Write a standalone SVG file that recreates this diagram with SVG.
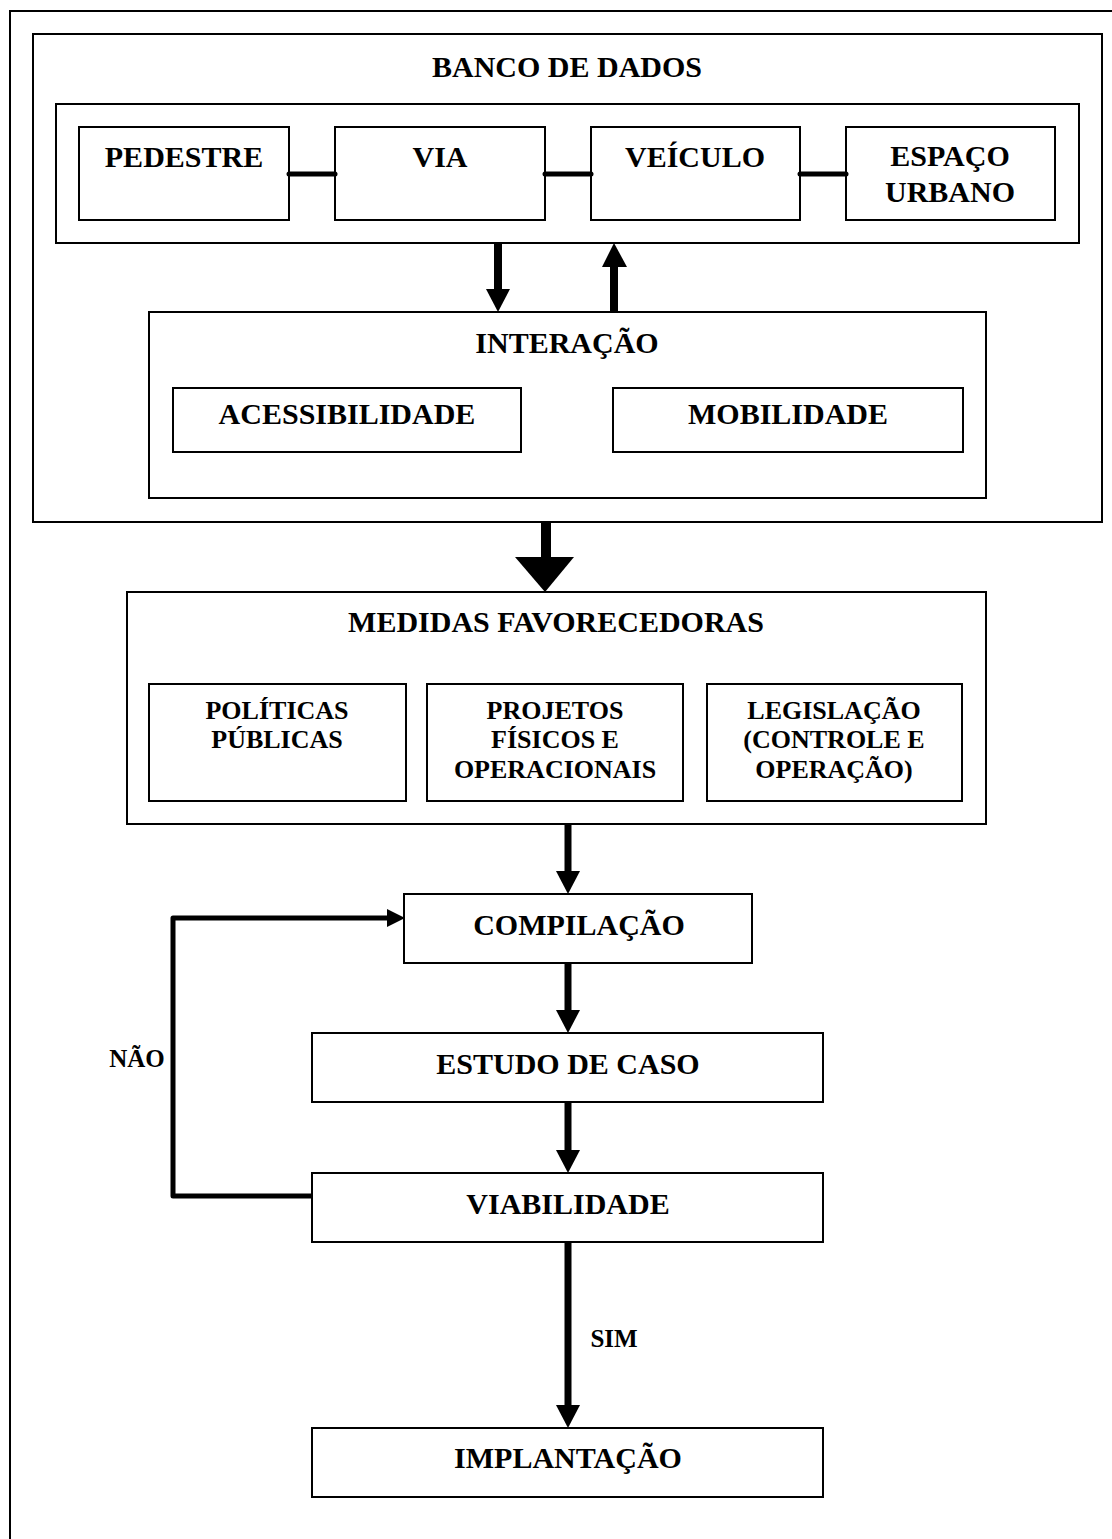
<svg xmlns="http://www.w3.org/2000/svg" width="1112" height="1539" viewBox="0 0 1112 1539">
<style>
.box{fill:#fff;stroke:#000;stroke-width:2}
.frame{fill:none;stroke:#000;stroke-width:2}
text{font-family:"Liberation Serif","Times New Roman",serif;font-weight:bold;fill:#000;text-anchor:middle}
.t30{font-size:30px}
.t26{font-size:26px}
.t25{font-size:25px}
.line{stroke:#000;fill:none}
.head{fill:#000;stroke:none}
</style>
<rect width="1112" height="1539" fill="#fff"/>
<rect class="frame" x="10" y="11" width="1110" height="1540"/>
<g id="banco">
<rect class="box" x="33" y="34" width="1069" height="488"/>
<text class="t30" x="567" y="77">BANCO DE DADOS</text>
<rect class="box" x="56" y="104" width="1023" height="139"/>
</g>
<g id="pedestre"><rect class="box" x="79" y="127" width="210" height="93"/><text class="t30" x="184" y="167">PEDESTRE</text></g>
<g id="via"><rect class="box" x="335" y="127" width="210" height="93"/><text class="t30" x="440" y="167">VIA</text></g>
<g id="veiculo"><rect class="box" x="591" y="127" width="209" height="93"/><text class="t30" x="695" y="167">VEÍCULO</text></g>
<g id="espaco"><rect class="box" x="846" y="127" width="209" height="93"/><text class="t30" x="950" y="166">ESPAÇO</text><text class="t30" x="950" y="202">URBANO</text></g>
<g id="interacao">
<rect class="box" x="149" y="312" width="837" height="186"/>
<text class="t30" x="567" y="353">INTERAÇÃO</text>
</g>
<g id="acessibilidade"><rect class="box" x="173" y="388" width="348" height="64"/><text class="t30" x="347" y="424">ACESSIBILIDADE</text></g>
<g id="mobilidade"><rect class="box" x="613" y="388" width="350" height="64"/><text class="t30" x="788" y="424">MOBILIDADE</text></g>
<g id="medidas">
<rect class="box" x="127" y="592" width="859" height="232"/>
<text class="t30" x="556" y="632">MEDIDAS FAVORECEDORAS</text>
</g>
<g id="politicas"><rect class="box" x="149" y="684" width="257" height="117"/><text class="t26" x="277" y="719">POLÍTICAS</text><text class="t26" x="277" y="748">PÚBLICAS</text></g>
<g id="projetos"><rect class="box" x="427" y="684" width="256" height="117"/><text class="t26" x="555" y="719">PROJETOS</text><text class="t26" x="555" y="748">FÍSICOS E</text><text class="t26" x="555" y="778">OPERACIONAIS</text></g>
<g id="legislacao"><rect class="box" x="707" y="684" width="255" height="117"/><text class="t26" x="834" y="719">LEGISLAÇÃO</text><text class="t26" x="834" y="748">(CONTROLE E</text><text class="t26" x="834" y="778">OPERAÇÃO)</text></g>
<g id="compilacao"><rect class="box" x="404" y="894" width="348" height="69"/><text class="t30" x="579" y="935">COMPILAÇÃO</text></g>
<g id="estudo"><rect class="box" x="312" y="1033" width="511" height="69"/><text class="t30" x="568" y="1074">ESTUDO DE CASO</text></g>
<g id="viabilidade"><rect class="box" x="312" y="1173" width="511" height="69"/><text class="t30" x="568" y="1214">VIABILIDADE</text></g>
<g id="implantacao"><rect class="box" x="312" y="1428" width="511" height="69"/><text class="t30" x="568" y="1468">IMPLANTAÇÃO</text></g>
<g id="connectors">
<line class="line" x1="289" y1="174" x2="335" y2="174" stroke-width="5" stroke-linecap="round"/>
<line class="line" x1="545" y1="174" x2="591" y2="174" stroke-width="5" stroke-linecap="round"/>
<line class="line" x1="800" y1="174" x2="846" y2="174" stroke-width="5" stroke-linecap="round"/>
<line class="line" x1="498" y1="243" x2="498" y2="290" stroke-width="8"/>
<polygon class="head" points="486,289 510,289 498,312"/>
<line class="line" x1="614" y1="266" x2="614" y2="313" stroke-width="8"/>
<polygon class="head" points="602,267 627,267 614,243"/>
<line class="line" x1="546" y1="522" x2="546" y2="558" stroke-width="10"/>
<polygon class="head" points="515,557 574,557 545,592"/>
<line class="line" x1="568" y1="824" x2="568" y2="872" stroke-width="7"/>
<polygon class="head" points="556,871 580,871 568,894"/>
<line class="line" x1="568" y1="963" x2="568" y2="1011" stroke-width="7"/>
<polygon class="head" points="556,1010 580,1010 568,1033"/>
<line class="line" x1="568" y1="1102" x2="568" y2="1151" stroke-width="7"/>
<polygon class="head" points="556,1150 580,1150 568,1173"/>
<line class="line" x1="568" y1="1242" x2="568" y2="1406" stroke-width="7"/>
<polygon class="head" points="556,1405 580,1405 568,1428"/>
<polyline class="line" points="313,1196 173,1196 173,918 388,918" stroke-width="5" stroke-linejoin="round"/>
<polygon class="head" points="387,909 387,927 405,918"/>
<text class="t25" x="614" y="1347">SIM</text>
<text class="t25" x="137" y="1067">NÃO</text>
</g>
</svg>
